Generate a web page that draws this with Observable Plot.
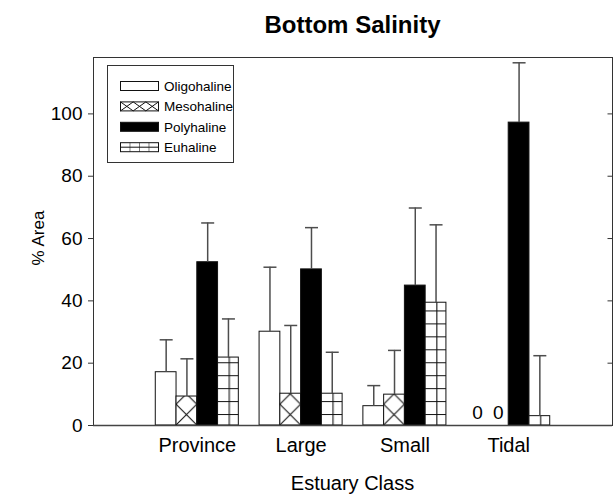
<!DOCTYPE html>
<html>
<head>
<meta charset="utf-8">
<script src="https://cdn.jsdelivr.net/npm/d3@7"></script>
<script src="https://cdn.jsdelivr.net/npm/@observablehq/plot@0.6"></script>
<style>
  body { margin: 0; background: #fff; }
  svg { display: block; }
</style>
</head>
<body>
<div id="chart"></div>
<script>
// Percent of bottom area by salinity zone, for each estuary class (mean and upper error)
const estuaryClasses = ["Province", "Large", "Small", "Tidal"];
const salinityZones = ["Oligohaline", "Mesohaline", "Polyhaline", "Euhaline"];

const oligohaline = [17.1, 30.1, 6.2, 0];
const mesohaline  = [9.3, 10.2, 9.9, 0];
const polyhaline  = [52.4, 50.1, 44.9, 97.2];
const euhaline    = [21.8, 10.2, 39.4, 3.0];

const oligohalineErr = [10.4, 20.7, 6.6, null];
const mesohalineErr  = [12.1, 21.9, 14.2, null];
const polyhalineErr  = [12.6, 13.4, 24.9, 19.2];
const euhalineErr    = [12.4, 13.3, 25.0, 19.4];

const yTicks = [0, 20, 40, 60, 80, 100];

const seriesValues = [oligohaline, mesohaline, polyhaline, euhaline];
const seriesErrors = [oligohalineErr, mesohalineErr, polyhalineErr, euhalineErr];

// One row per bar; classes sit at 1..4 on the x axis, zones side by side
const barWidth = 0.2;
const rows = [];
estuaryClasses.forEach((cls, i) => {
  salinityZones.forEach((zone, j) => {
    rows.push({
      cls, zone,
      pos: i + 1 + (j - 1.5) * barWidth,
      value: seriesValues[j][i],
      err: seriesErrors[j][i]
    });
  });
});

const zoneFill = {
  Oligohaline: "white",
  Mesohaline: "url(#hatch-meso)",
  Polyhaline: "black",
  Euhaline: "url(#grid-eu)"
};

const font = "'Liberation Sans', Arial, Helvetica, sans-serif";
const axisColor = "#333";

// horizontal cap drawn at the top of each error bar
const capSymbol = { draw(ctx) { ctx.moveTo(-6.5, 0); ctx.lineTo(6.5, 0); } };
// short inward tick on the right edge of the frame
const rightTick = { draw(ctx) { ctx.moveTo(-5, 0); ctx.lineTo(0, 0); } };

const withErr = rows.filter(d => d.err != null);

const chart = Plot.plot({
  width: 616,
  height: 494,
  marginLeft: 93,
  marginRight: 4,
  marginTop: 57,
  marginBottom: 69,
  style: { fontFamily: font, fontSize: "18px", color: "#000", background: "#fff" },
  x: { type: "linear", domain: [0, 5] },
  y: { domain: [0, 118.1] },
  marks: [
    ...salinityZones.map(zone =>
      Plot.rect(rows.filter(d => d.zone === zone && d.value > 0), {
        x1: d => d.pos - barWidth / 2,
        x2: d => d.pos + barWidth / 2,
        y1: 0,
        y2: "value",
        fill: zoneFill[zone],
        stroke: "#111",
        strokeWidth: 1
      })
    ),
    Plot.ruleX(withErr, {
      x: "pos",
      y1: "value",
      y2: d => d.value + d.err,
      stroke: "#4d4d4d",
      strokeWidth: 1.5
    }),
    Plot.dot(withErr, {
      x: "pos",
      y: d => d.value + d.err,
      symbol: capSymbol,
      fill: "none",
      stroke: "#4d4d4d",
      strokeWidth: 1.5
    }),
    Plot.text(rows.filter(d => d.value === 0), {
      x: "pos",
      y: "value",
      text: d => String(d.value),
      dy: -12.5,
      fontSize: 19
    }),
    Plot.axisY(yTicks, {
      anchor: "left",
      tickSize: 5,
      tickPadding: 6,
      fontSize: 19,
      stroke: axisColor,
      label: null
    }),
    Plot.dot(yTicks, {
      y: d => d,
      frameAnchor: "right",
      symbol: rightTick,
      fill: "none",
      stroke: axisColor,
      strokeWidth: 1
    }),
    Plot.axisX([1, 2, 3, 4], {
      anchor: "bottom",
      tickSize: 0,
      tickPadding: 12,
      fontSize: 20,
      tickFormat: d => estuaryClasses[d - 1],
      label: null
    }),
    Plot.frame({ stroke: axisColor, strokeWidth: 1 }),
    Plot.ruleY([0], { stroke: "#444", strokeWidth: 1.6 })
  ]
});

document.getElementById("chart").append(chart);

// Fill patterns and annotations drawn into the same SVG
const svg = d3.select(chart);
const xs = chart.scale("x");
const ys = chart.scale("y");
const bw = xs.apply(barWidth) - xs.apply(0);
const y0 = ys.apply(0);

const defs = svg.insert("defs", ":first-child");

// cross-hatch: diagonal lines meeting at tile corners
const meso = defs.append("pattern")
  .attr("id", "hatch-meso")
  .attr("patternUnits", "userSpaceOnUse")
  .attr("x", xs.apply(1 - barWidth)).attr("y", y0)
  .attr("width", bw).attr("height", bw);
meso.append("rect").attr("width", bw).attr("height", bw).attr("fill", "white");
meso.append("path")
  .attr("d", `M0,0L${bw},${bw}M${bw},0L0,${bw}`)
  .attr("stroke", "#111").attr("stroke-width", 1.1).attr("fill", "none");

// grid: one vertical line per bar, horizontal rules every few units
const gh = 12.95;
const eu = defs.append("pattern")
  .attr("id", "grid-eu")
  .attr("patternUnits", "userSpaceOnUse")
  .attr("x", xs.apply(1 + barWidth)).attr("y", y0)
  .attr("width", bw).attr("height", gh);
eu.append("rect").attr("width", bw).attr("height", gh).attr("fill", "white");
eu.append("path")
  .attr("d", `M11.7,0V${gh}M0,2.45H${bw}`)
  .attr("stroke", "#111").attr("stroke-width", 1.1).attr("fill", "none");

// legend grid pattern sized for the small swatch
const leu = defs.append("pattern")
  .attr("id", "grid-eu-key")
  .attr("patternUnits", "userSpaceOnUse")
  .attr("x", 120).attr("y", 0)
  .attr("width", 9.5).attr("height", 500);
leu.append("rect").attr("width", 9.5).attr("height", 500).attr("fill", "white");
leu.append("path").attr("d", "M0,0V500").attr("stroke", "#111").attr("stroke-width", 1.1);

// title and axis titles
svg.append("text")
  .attr("x", (93 + 612) / 2).attr("y", 33)
  .attr("text-anchor", "middle")
  .attr("font-family", font).attr("font-size", 24).attr("font-weight", "bold")
  .text("Bottom Salinity");

svg.append("text")
  .attr("transform", "translate(38,238) rotate(-90)")
  .attr("text-anchor", "middle").attr("dy", "0.35em")
  .attr("font-family", font).attr("font-size", 17)
  .text("% Area");

svg.append("text")
  .attr("x", (93 + 612) / 2).attr("y", 490)
  .attr("text-anchor", "middle")
  .attr("font-family", font).attr("font-size", 20)
  .text("Estuary Class");

// legend box
const key = svg.append("g")
  .attr("font-family", font).attr("font-size", 13.5).attr("text-anchor", "start");
key.append("rect")
  .attr("x", 107.5).attr("y", 65.5).attr("width", 126).attr("height", 97)
  .attr("fill", "white").attr("stroke", axisColor);

const keyFills = ["white", "white", "black", "url(#grid-eu-key)"];
salinityZones.forEach((zone, j) => {
  const cy = 86 + j * 20.4;
  const row = key.append("g");
  row.append("rect")
    .attr("x", 120.5).attr("y", cy - 4.5).attr("width", 38).attr("height", 9)
    .attr("fill", keyFills[j]).attr("stroke", "#111");
  if (j === 1) {
    // X marks across the swatch
    let d = "";
    for (let k = 0; k < 3; k++) {
      const x0 = 120.5 + k * 12.67;
      d += `M${x0},${cy - 4.5}L${x0 + 12.67},${cy + 4.5}M${x0 + 12.67},${cy - 4.5}L${x0},${cy + 4.5}`;
    }
    row.append("path").attr("d", d).attr("stroke", "#111").attr("fill", "none");
  }
  if (j === 3) {
    row.append("path").attr("d", `M120.5,${cy}H158.5`).attr("stroke", "#111");
  }
  row.append("text")
    .attr("x", 164).attr("y", cy).attr("dy", "0.35em")
    .attr("text-anchor", "start")
    .text(zone);
});
</script>
</body>
</html>
